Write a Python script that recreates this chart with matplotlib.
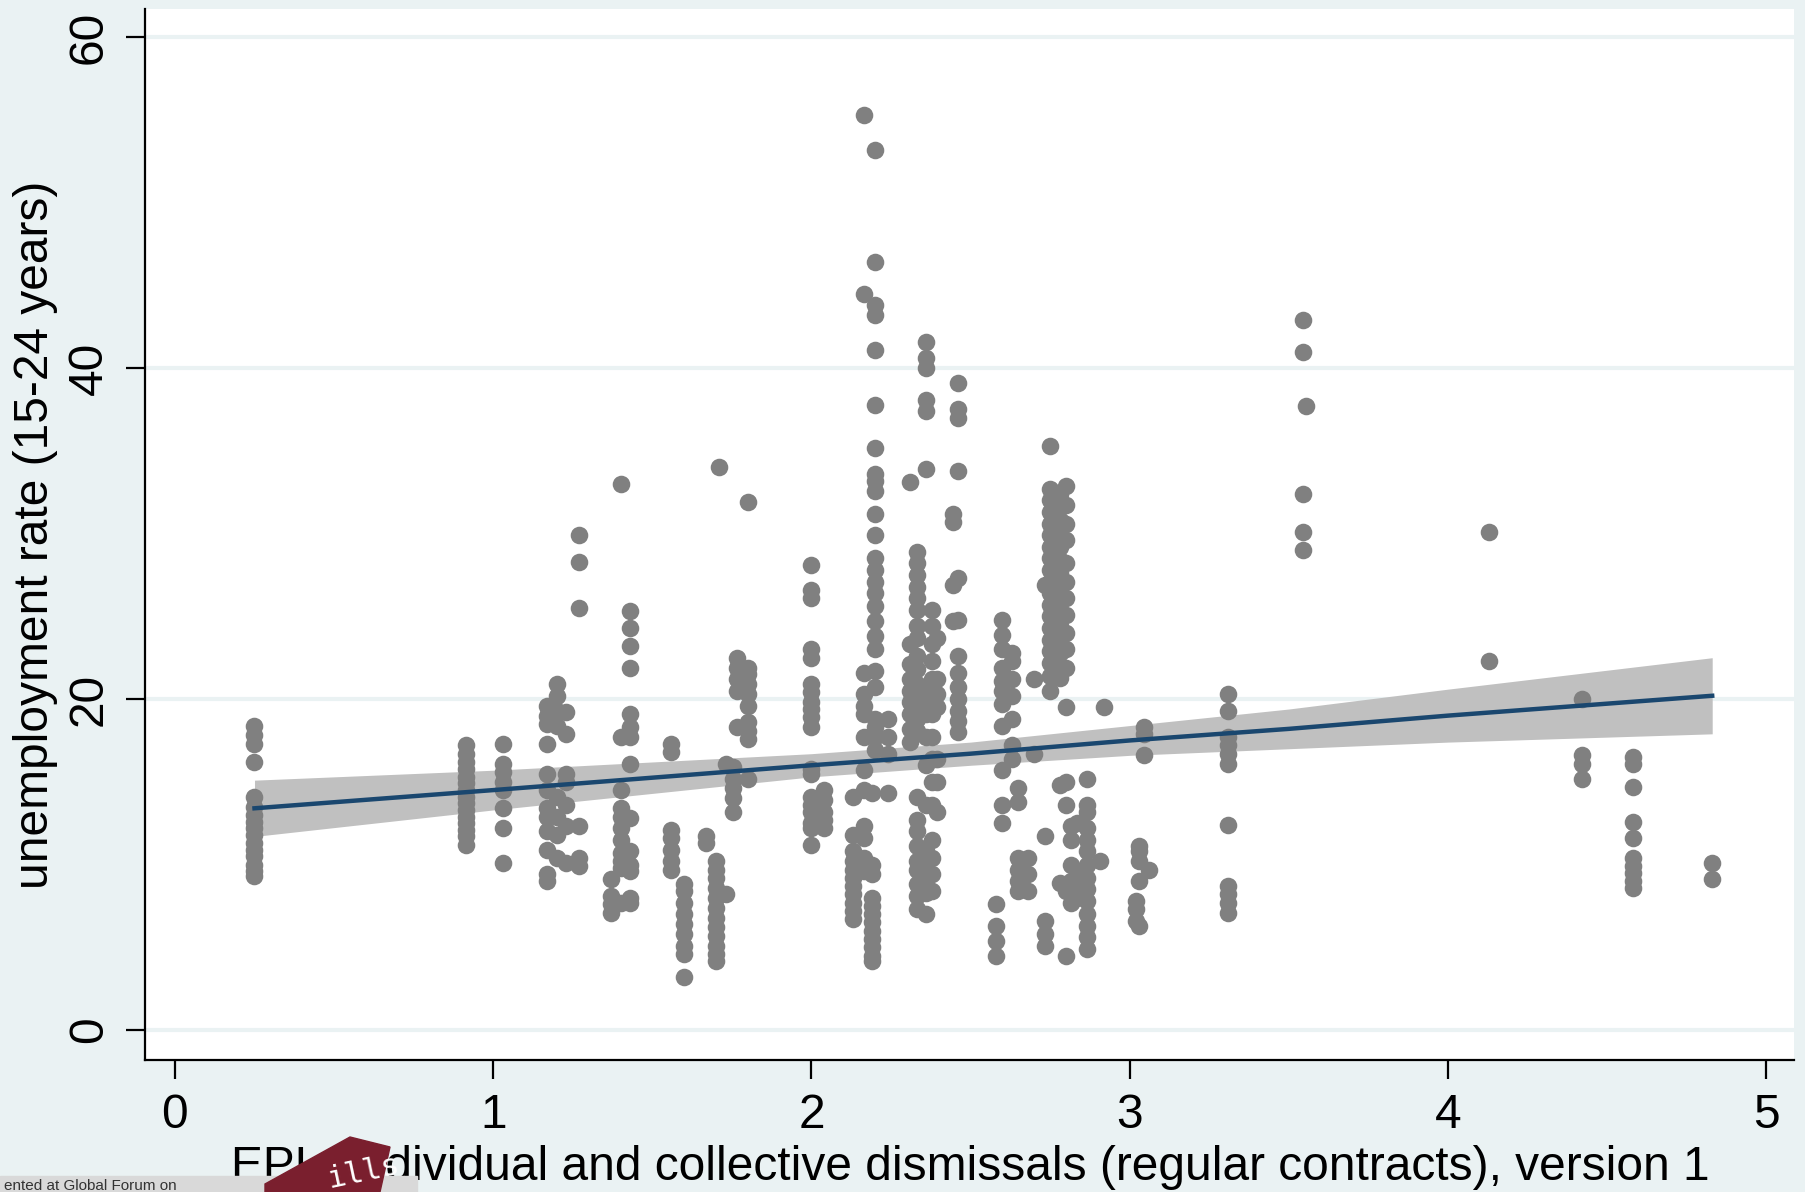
import matplotlib
matplotlib.use('Agg')
import matplotlib.pyplot as plt
import numpy as np
from matplotlib.patches import Rectangle, Polygon

plt.rcParams['font.family'] = ['Liberation Sans', 'DejaVu Sans']

# EPL value of each column of points, and the unemployment rates
col_x = [0.25, 0.915, 1.03, 1.17, 1.20, 1.23, 1.27, 1.37, 1.40, 1.43, 1.56, 1.60, 1.67, 1.70, 1.71,
         1.73, 1.755, 1.765, 1.80, 2.00, 2.04, 2.13, 2.165, 2.19, 2.20, 2.24, 2.31, 2.33, 2.36,
         2.38, 2.395, 2.445, 2.46, 2.58, 2.60, 2.63, 2.65, 2.68, 2.70, 2.735, 2.75, 2.78, 2.80,
         2.815, 2.835, 2.865, 2.905, 2.92, 3.02, 3.03, 3.045, 3.06, 3.31, 3.545, 3.555, 4.13,
         4.42, 4.58, 4.83]
col_y = [
    [18.4, 17.8, 17.3, 16.2, 14.1, 13.5, 13.0, 12.6, 12.2, 11.8, 11.3, 10.9, 10.5, 10.0, 9.6, 9.3],
    [17.2, 16.7, 16.2, 15.8, 15.3, 14.9, 14.5, 14.1, 13.7, 13.3, 12.9, 12.5, 12.1, 11.7, 11.2],
    [17.3, 16.1, 15.6, 15.0, 14.5, 13.4, 12.2, 10.1],
    [19.6, 19.0, 18.5, 17.3, 15.5, 14.5, 13.4, 12.9, 12.0, 10.9, 9.4, 9.0],
    [20.9, 20.2, 19.3, 18.4, 14.1, 12.9, 11.8, 10.4],
    [19.2, 17.9, 15.5, 15.0, 13.6, 12.3, 10.1],
    [29.9, 28.3, 25.5, 12.3, 10.4, 9.9],
    [9.1, 8.1, 7.6, 7.1],
    [33.0, 17.7, 14.5, 13.4, 12.9, 12.2, 11.5, 10.7, 10.2, 9.8, 7.7],
    [25.3, 24.3, 23.2, 21.9, 19.1, 18.3, 17.7, 16.1, 12.8, 10.8, 10.0, 9.6, 8.0, 7.7],
    [17.3, 16.8, 12.1, 11.6, 10.9, 10.2, 9.7],
    [8.8, 8.4, 7.7, 7.0, 6.4, 5.8, 5.1, 4.6, 3.2],
    [11.7, 11.3],
    [10.2, 9.7, 9.2, 8.6, 8.0, 7.4, 6.8, 6.2, 5.7, 5.1, 4.6, 4.2],
    [34.0],
    [16.1, 8.2],
    [15.9, 15.2, 14.6, 14.0, 13.2],
    [22.5, 21.9, 21.2, 20.5, 18.3],
    [31.9, 21.9, 21.5, 20.9, 20.3, 19.6, 18.6, 18.1, 17.6, 15.2],
    [28.1, 26.6, 26.1, 23.0, 22.5, 20.9, 20.4, 19.8, 19.4, 18.9, 18.3, 15.8, 15.5, 14.1, 13.6,
     13.2, 12.5, 12.2, 11.2],
    [14.5, 13.9, 13.2, 12.7, 12.2],
    [14.1, 11.8, 10.8, 10.2, 9.7, 9.2, 8.7, 8.2, 7.7, 7.2, 6.7],
    [55.3, 44.5, 21.6, 20.3, 19.6, 19.1, 17.7, 15.7, 14.5, 12.3, 11.6, 10.4, 10.1, 9.6],
    [14.3, 10.0, 9.4, 8.0, 7.5, 7.0, 6.5, 6.0, 5.5, 5.0, 4.5, 4.2],
    [53.2, 46.4, 43.8, 43.2, 41.1, 37.8, 35.2, 33.6, 33.2, 32.6, 31.2, 29.9, 28.5, 27.8, 27.1,
     26.4, 25.6, 24.7, 23.8, 23.0, 21.7, 20.7, 18.8, 18.3, 17.7, 16.9],
    [18.8, 17.7, 16.7, 14.3],
    [33.1, 23.3, 22.1, 21.2, 20.5, 19.8, 19.1, 18.2, 17.4],
    [28.9, 28.2, 27.5, 26.8, 26.1, 25.4, 24.4, 23.7, 22.6, 21.8, 20.9, 20.2, 19.5, 18.8, 18.1,
     14.1, 12.7, 12.0, 11.1, 10.2, 9.7, 8.8, 8.1, 7.3],
    [41.6, 40.6, 40.0, 38.1, 37.4, 33.9, 20.5, 19.8, 19.1, 17.7, 16.0, 13.6, 10.8, 10.1, 9.5,
     8.9, 8.3, 7.0],
    [25.4, 24.4, 23.3, 22.3, 21.2, 20.2, 19.1, 17.7, 16.4, 15.0, 13.6, 11.5, 10.4, 9.4, 8.4],
    [23.7, 21.2, 20.3, 19.5, 16.4, 15.0, 13.2],
    [31.2, 30.7, 26.9, 24.7],
    [39.1, 37.5, 37.0, 33.8, 27.3, 24.8, 22.6, 21.6, 20.7, 20.0, 19.3, 18.7, 18.0],
    [7.6, 6.3, 5.4, 4.5],
    [24.8, 23.9, 23.0, 21.9, 21.1, 20.5, 19.7, 18.4, 15.7, 13.6, 12.5],
    [22.8, 22.3, 21.2, 20.2, 18.8, 17.2, 16.4],
    [14.6, 13.8, 10.4, 9.7, 9.0, 8.4],
    [10.4, 9.4, 8.4],
    [21.2, 16.7],
    [26.9, 11.7, 6.6, 5.8, 5.1],
    [35.3, 32.7, 32.0, 31.3, 30.6, 29.9, 29.2, 28.5, 27.8, 27.1, 26.4, 25.7, 25.0, 24.3, 23.6,
     22.9, 22.2, 21.4, 20.5],
    [32.4, 31.6, 30.8, 30.0, 29.2, 28.4, 27.6, 26.8, 26.0, 25.2, 24.4, 23.6, 22.8, 22.0, 21.3,
     14.8, 8.9],
    [32.9, 31.7, 30.6, 29.6, 28.2, 27.1, 26.1, 25.1, 24.0, 23.0, 21.9, 19.5, 15.0, 13.6, 8.4, 4.5],
    [12.3, 11.5, 10.0, 9.0, 8.3, 7.7],
    [12.5, 9.4, 8.7, 8.0],
    [15.2, 13.6, 13.2, 12.2, 11.5, 10.8, 10.0, 9.2, 8.5, 7.8, 7.0, 6.3, 5.6, 4.9],
    [10.2],
    [19.5],
    [7.8, 7.3, 6.6],
    [11.1, 10.8, 10.2, 9.0, 6.3],
    [18.3, 17.9, 16.6],
    [9.7],
    [20.3, 19.3, 17.7, 17.2, 16.7, 16.1, 12.4, 8.7, 8.2, 7.7, 7.1],
    [42.9, 41.0, 32.4, 30.1, 29.0],
    [37.7],
    [30.1, 22.3],
    [20.0, 16.6, 16.1, 15.2],
    [16.5, 16.1, 14.7, 12.6, 11.6, 10.4, 9.9, 9.5, 9.0, 8.6],
    [10.1, 9.1],
]

# fitted line and 95% CI
fit_x = [0.25, 1.0, 2.0, 2.5, 3.0, 3.5, 4.0, 4.83]
fit_y = [13.4, 14.5, 16.0, 16.7, 17.5, 18.2, 19.0, 20.2]
ci_lo = [11.7, 13.3, 15.3, 16.0, 16.6, 17.0, 17.4, 17.9]
ci_hi = [15.1, 15.7, 16.7, 17.4, 18.4, 19.4, 20.6, 22.5]

xticks = [0, 1, 2, 3, 4, 5]
yticks = [0, 20, 40, 60]

bg = '#EAF2F3'
fig = plt.figure(figsize=(18.05, 11.92), dpi=100, facecolor=bg)
ax = fig.add_axes([145 / 1805, 1 - 1060 / 1192, 1649 / 1805, 1051 / 1192])
ax.set_facecolor('white')

xs = np.concatenate([np.full(len(ys), x) for x, ys in zip(col_x, col_y)])
ys = np.concatenate([np.array(v) for v in col_y])

ax.fill_between(fit_x, ci_lo, ci_hi, color='#C0C0C0', lw=0, zorder=2)
ax.scatter(xs, ys, s=160, color='#808080', lw=0, zorder=3)
ax.plot(fit_x, fit_y, color='#1A476F', lw=3.2, zorder=4)

for t in yticks:
    ax.axhline(t, color=bg, lw=3, zorder=1)

ax.set_xlim(-0.094, 5.087)
ax.set_ylim(-1.81, 61.7)
ax.set_xticks(xticks)
ax.set_yticks(yticks)
for s in ['top', 'right']:
    ax.spines[s].set_visible(False)
for s in ['left', 'bottom']:
    ax.spines[s].set_linewidth(1.6)
ax.tick_params(axis='both', length=14, width=1.6, labelsize=34.5, direction='out')
ax.tick_params(axis='x', pad=10)
ax.tick_params(axis='y', pad=10)
plt.setp(ax.get_yticklabels(), rotation=90, va='center')

ax.set_ylabel('unemployment rate (15-24 years)', fontsize=34.5, labelpad=6)
fig.text(970 / 1805, 12 / 1192, 'EPL, individual and collective dismissals (regular contracts), version 1',
         ha='center', va='baseline', fontsize=34.5)

# overlay badge at the bottom left
fig.patches.append(Rectangle((0, 0), 417 / 1805, 16 / 1192, transform=fig.transFigure,
                             color='#D9D9D9', zorder=10))
fig.text(0.002, 2 / 1192, 'ented at Global Forum on', fontsize=11, color='#333333', zorder=11)
fig.patches.append(Polygon([(265 / 1805, 0), (380 / 1805, 0), (390 / 1805, 45 / 1192),
                            (350 / 1805, 55 / 1192), (265 / 1805, 8 / 1192)],
                           closed=True, transform=fig.transFigure, color='#7A1F2E', zorder=12))
fig.text(325 / 1805, 4 / 1192, 'ills', fontsize=22, color='white', rotation=12,
         family='DejaVu Sans Mono', zorder=13)

fig.savefig('out.png', dpi=100, facecolor=bg)
